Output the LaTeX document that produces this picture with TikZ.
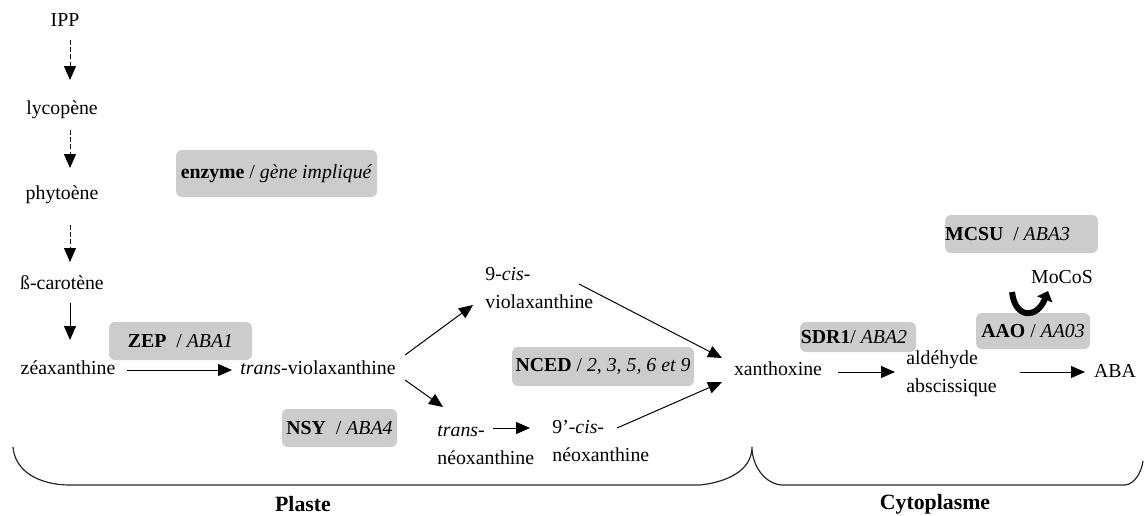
\documentclass[tikz,border=0pt]{standalone}
\usepackage{fontspec}
\setmainfont{Liberation Serif}
\usetikzlibrary{arrows.meta,calc}
\definecolor{boxgray}{RGB}{204,204,204}
\begin{document}
\begin{tikzpicture}[x=0.5pt,y=-0.5pt,
  every node/.style={font=\fontsize{9.9}{14}\selectfont, inner sep=0pt},
  txt/.style={align=left},
  ebox/.style={fill=boxgray, rounded corners=3pt, align=center},
  lbl/.style={font=\fontsize{10.9}{13}\selectfont\bfseries},
  conn/.style={line width=0.5pt, -{Triangle[length=7pt,width=6pt]}},
  dconn/.style={conn, dash pattern=on 2.4pt off 1.2pt},
  brace/.style={line width=0.6pt, draw=black!85},
  bigarrow/.style={line width=3pt, -{Triangle[length=4.5pt,width=8pt]}}
]
\useasboundingbox (0,0) rectangle (1145,515);

% enzyme boxes
\node[ebox, minimum width=100.5pt, minimum height=23.5pt] (leg) at (276.5,173.5) {\textbf{enzyme} / \textit{gène impliqué}};
\node[ebox, minimum width=71.5pt, minimum height=19pt] (zep) at (180.5,341) {\textbf{ZEP}\enspace/ \textit{ABA1}};
\node[ebox, minimum width=57.5pt, minimum height=19pt] (nsy) at (339.5,428) {\textbf{NSY}\enspace/ \textit{ABA4}};
\node[ebox, minimum width=91pt, minimum height=19.5pt] (nced) at (603,366.5) {\textbf{NCED} / \textit{2, 3, 5, 6 et 9}};
\node[ebox, minimum width=58pt, minimum height=15pt] (sdr) at (858,337) {\textbf{SDR1}/ \textit{ABA2}\hspace{4pt}};
\node[ebox, minimum width=57pt, minimum height=18pt] (aao) at (1033,331) {\textbf{AAO} / \textit{AA03}};
\node[ebox, minimum width=67.5pt, minimum height=19pt] (mcsu) at (1021.5,234) {\textbf{MCSU}\enspace/ \textit{ABA3}\hspace{14pt}};

% metabolites
\node (ipp) at (65,20) {IPP};
\node (lyc) at (62,110) {lycopène};
\node (phy) at (62,195) {phytoène};
\node (car) at (62,283) {ß-carotène};
\node (zea) at (68,368) {zéaxanthine};
\node (tvio) at (318,368) {\textit{trans}-violaxanthine};
\node[txt, anchor=west] (cvio) at (485,288) {9-\textit{cis}-\\violaxanthine};
\node[txt, anchor=west] (tneo) at (437,445) {\textit{trans}-\\néoxanthine};
\node[txt, anchor=west] (cneo) at (552,441) {9’-\textit{cis}-\\néoxanthine};
\node (xan) at (778,369) {xanthoxine};
\node[txt, anchor=west] (ald) at (906,374) {aldéhyde\\abscissique};
\node (aba) at (1115,371) {ABA};
\node (mocos) at (1062,277) {MoCoS};

% connectors
\draw[dconn] ($(ipp)+(5,20)$) -- ($(lyc)+(8,-30)$);
\draw[dconn] ($(lyc)+(8,20)$) -- ($(phy)+(8,-27)$);
\draw[dconn] ($(phy)+(8,30)$) -- ($(car)+(8,-21)$);
\draw[conn] ($(car)+(8,20)$) -- ($(zea)+(2,-28)$);
\draw[conn] ($(zea)+(59,2)$) -- ($(tvio)+(-86,2)$);
\draw[conn] ($(tvio)+(87,-13)$) -- ($(cvio.west)+(-12,17)$);
\draw[conn] ($(tvio)+(87,12)$) -- ($(tneo.west)+(6,-38)$);
\draw[conn] ($(cvio.west)+(94,-4)$) -- ($(xan)+(-56,-11)$);
\draw[conn] ($(tneo.west)+(56,-17)$) -- ($(cneo.west)+(-22,-13)$);
\draw[conn] ($(cneo.west)+(65,-13)$) -- ($(xan)+(-56,13)$);
\draw[conn] ($(xan)+(60,3)$) -- ($(ald.west)+(-11,-2)$);
\draw[conn] ($(ald.west)+(114,-2)$) -- ($(aba)+(-30,1)$);
\draw[bigarrow] ($(mocos)+(-50,15)$) .. controls ($(mocos)+(-47,42)$) and ($(mocos)+(-25,42)$) .. ($(mocos)+(-14,14)$);

% compartments
\draw[brace] (13,447) .. controls (15,472) and (40,485) .. (70,485) -- (700,485)
  .. controls (735,481) and (752,466) .. (752,447)
  .. controls (752,466) and (765,484) .. (782,485) -- (1125,485)
  .. controls (1134,484) and (1141,474) .. (1143,461);
\node[lbl] (plaste) at (303,504) {Plaste};
\node[lbl] (cyto) at (935,504) {Cytoplasme};
\end{tikzpicture}
\end{document}
